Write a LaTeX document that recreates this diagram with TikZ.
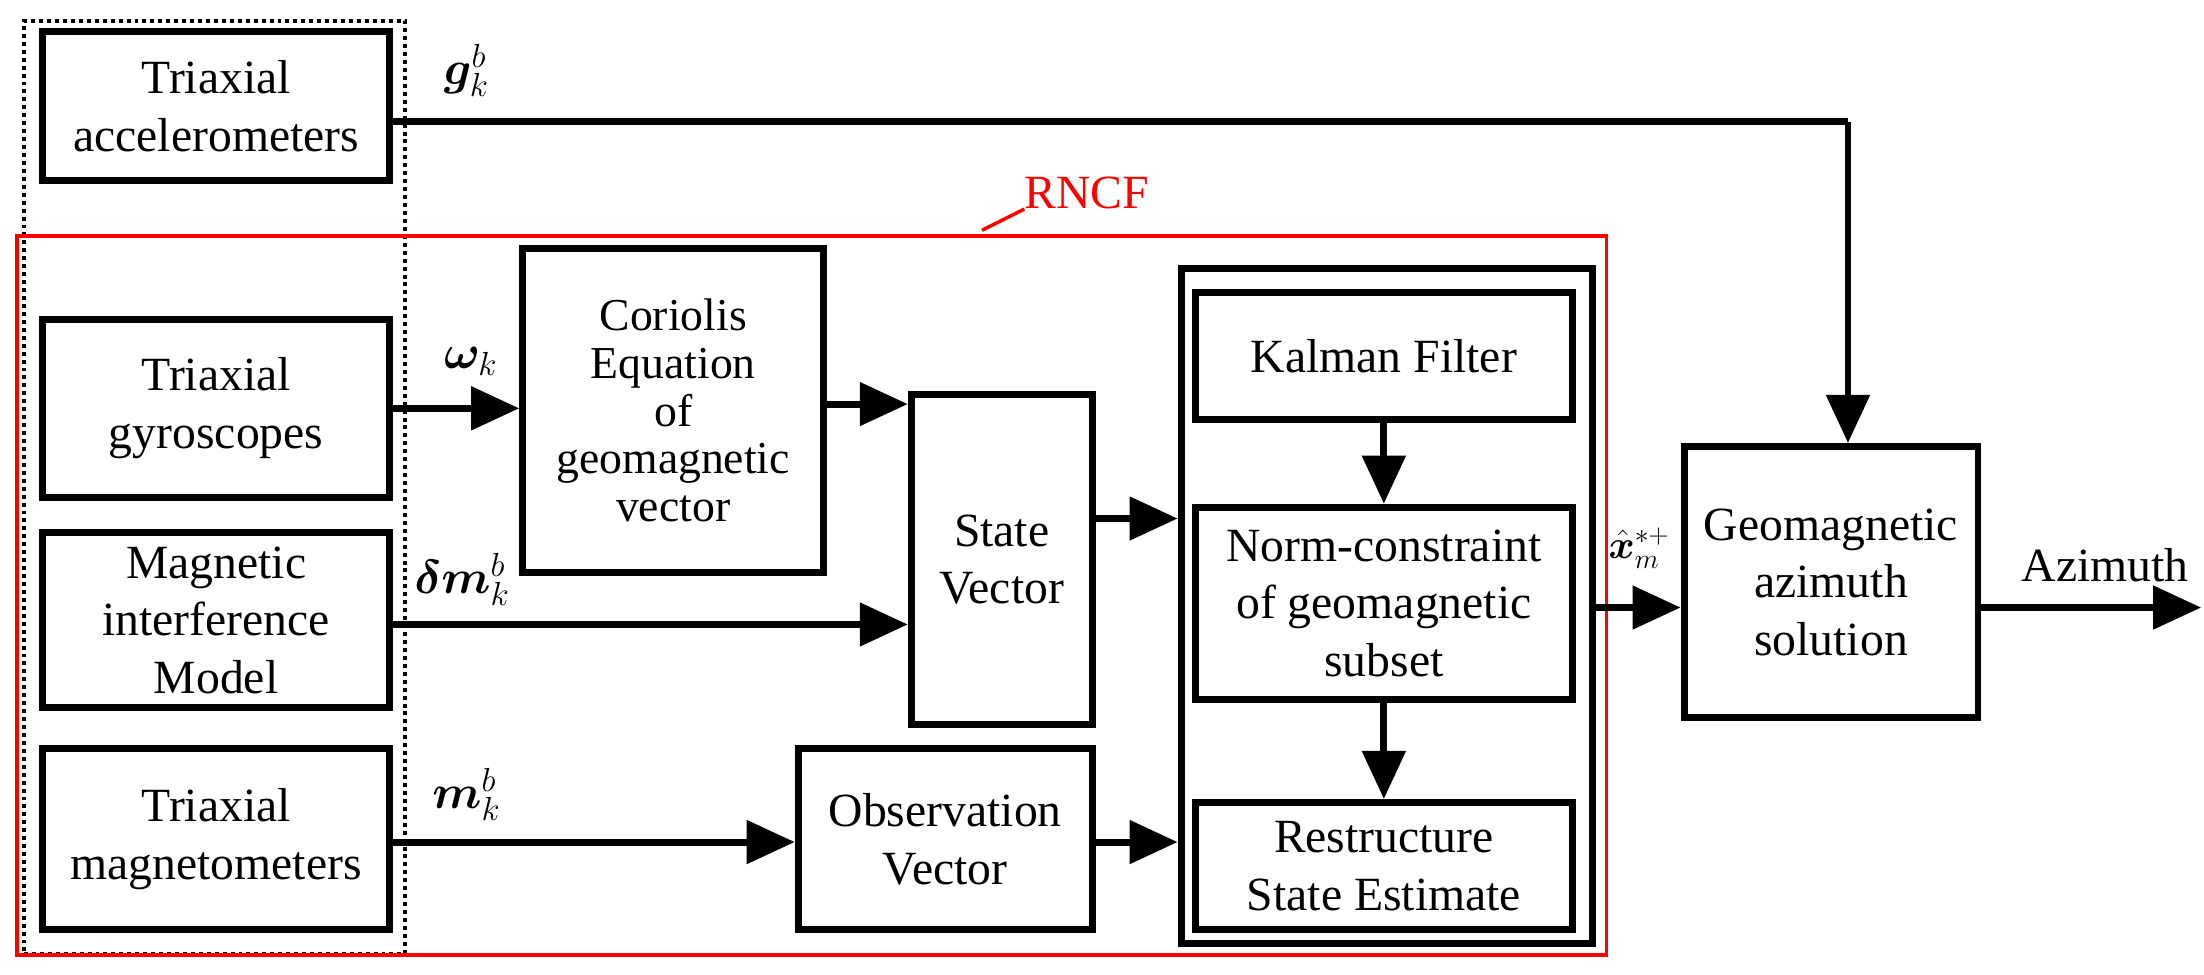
\documentclass[tikz,border=0pt]{standalone}
\usepackage{fix-cm}
\usepackage{amsmath,bm}
\usepackage{fontspec}
\setmainfont{Liberation Serif}
\newfontfamily\tnr{Liberation Serif}
\usetikzlibrary{arrows.meta}
\begin{document}
\begin{tikzpicture}[x=0.05cm,y=-0.05cm,
  box/.style={draw,line width=7pt,align=center,font=\tnr\fontsize{48}{58}\selectfont},
  arr/.style={line width=7pt,-{Triangle[length=1.7cm,width=1.5cm]}},
  ln/.style={line width=7pt},
  lbl/.style={font=\tnr\fontsize{48}{58}\selectfont}]
\useasboundingbox (0,0) rectangle (1560,690);
\node[box,minimum width=246*0.05cm,minimum height=106*0.05cm] (acc) at (153,75) {Triaxial\\accelerometers};
\node[box,minimum width=246*0.05cm,minimum height=126*0.05cm] (gyr) at (153,289) {Triaxial\\gyroscopes};
\node[box,minimum width=246*0.05cm,minimum height=124*0.05cm,inner sep=0pt] (mag) at (153,439) {Magnetic\\interference\\Model};
\node[box,minimum width=246*0.05cm,minimum height=128*0.05cm] (mgt) at (153,594) {Triaxial\\magnetometers};
\node[box,minimum width=213*0.05cm,minimum height=229*0.05cm,inner sep=0pt,font=\tnr\fontsize{46}{48}\selectfont] (cor) at (476.5,290.5) {Coriolis\\Equation\\of\\geomagnetic\\vector};
\node[box,minimum width=128*0.05cm,minimum height=234*0.05cm,inner sep=0pt] (sv) at (709,396) {State\\Vector};
\node[box,minimum width=208*0.05cm,minimum height=128*0.05cm,inner sep=0pt] (ov) at (669,594) {Observation\\Vector};
\node[draw,line width=7pt,minimum width=291*0.05cm,minimum height=478*0.05cm] (outer) at (981.5,429) {};
\node[box,minimum width=267*0.05cm,minimum height=90*0.05cm] (kf) at (979.5,252) {Kalman Filter};
\node[box,minimum width=267*0.05cm,minimum height=136*0.05cm,inner sep=0pt] (nc) at (979.5,427) {Norm-constraint\\of geomagnetic\\subset};
\node[box,minimum width=267*0.05cm,minimum height=90*0.05cm,inner sep=0pt] (rs) at (979.5,613) {Restructure\\State Estimate};
\node[box,minimum width=208*0.05cm,minimum height=192*0.05cm,inner sep=0pt] (geo) at (1296,412) {Geomagnetic\\azimuth\\solution};
% frames
\node[draw,line width=4pt,dash pattern=on 4pt off 4pt,minimum width=270*0.05cm,minimum height=660*0.05cm] (dot) at (152,345) {};
\node[draw=red,line width=3.5pt,minimum width=1125*0.05cm,minimum height=509*0.05cm] (rn) at (574.5,421.5) {};
\node[lbl,text=red,anchor=south west,inner sep=0pt] (rlab) at (725,148) {RNCF};
\coordinate (s1) at (695,163);
\draw[red,line width=3.5pt] (s1) -- (rlab.south west);
% connectors
\coordinate (g1) at (1308,86);
\draw[ln] (acc.east|-g1) -- (g1);
\draw[arr] (g1) -- (geo.north-|g1);
\draw[arr] (gyr.east) -- (cor.west|-gyr.east);
\coordinate (c1) at (583,286);
\draw[arr] (c1) -- (sv.west|-c1);
\coordinate (m1) at (276,442);
\draw[arr] (m1) -- (sv.west|-m1);
\coordinate (sv1) at (773,367);
\draw[arr] (sv1) -- (outer.west|-sv1);
\coordinate (t1) at (276,596);
\draw[arr] (t1) -- (ov.west|-t1);
\coordinate (o1) at (773,596);
\draw[arr] (o1) -- (outer.west|-o1);
\draw[arr] (kf.south) -- (nc.north);
\draw[arr] (nc.south) -- (rs.north);
\coordinate (n1) at (1127,430);
\draw[arr] (n1) -- (geo.west|-n1);
\coordinate (az) at (1558,430);
\draw[arr] (geo.east|-az) -- (az);
% labels
\node[lbl] (gl) at (330,50) {$\bm{g}_k^b$};
\node[lbl] (wl) at (333,256) {$\bm{\omega}_k$};
\node[lbl] (dl) at (327,410) {$\bm{\delta m}_k^b$};
\node[lbl] (ml) at (330,562) {$\bm{m}_k^b$};
\node[lbl,font=\tnr\fontsize{40}{48}\selectfont] (xl) at (1160,388) {$\hat{\bm{x}}_m^{*+}$};
\node[lbl] (al) at (1490,400) {Azimuth};
\end{tikzpicture}
\end{document}
